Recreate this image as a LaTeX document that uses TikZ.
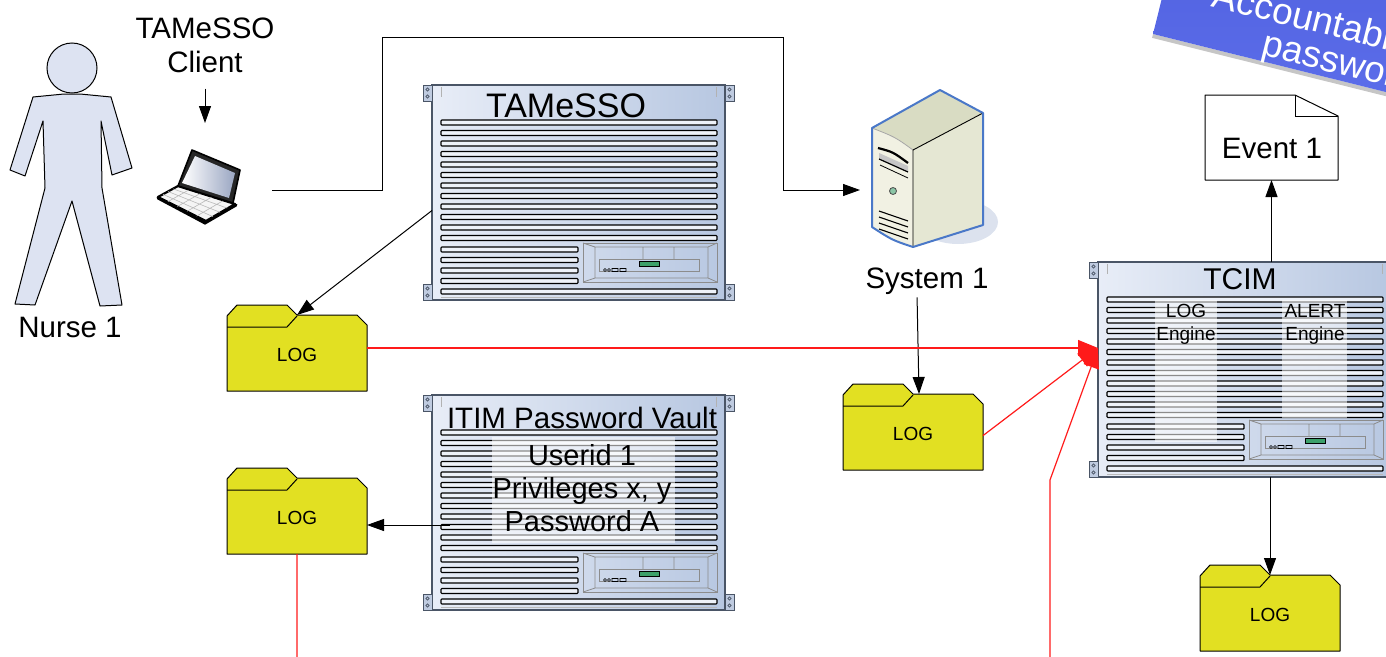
\documentclass[tikz,border=0pt]{standalone}
\usepackage{fontspec}
\setmainfont{Liberation Sans}
\usetikzlibrary{arrows.meta}

\definecolor{rackL}{HTML}{E8EDF7}
\definecolor{rackR}{HTML}{B7C7E1}
\definecolor{rackEdge}{HTML}{4A5566}
\definecolor{earFill}{HTML}{BFCBE0}
\definecolor{slatFill}{HTML}{EEF2F9}
\definecolor{panelGray}{HTML}{8C8C8C}
\definecolor{ledGreen}{HTML}{3DA06A}
\definecolor{logYellow}{HTML}{E2E022}
\definecolor{personFill}{HTML}{DDE3F2}
\definecolor{linkRed}{HTML}{FF1A1A}
\definecolor{bannerTop}{HTML}{4E5EDD}
\definecolor{bannerBot}{HTML}{5E70EC}
\definecolor{towerTop}{HTML}{D9DCC3}
\definecolor{towerFront}{HTML}{F1F1E3}
\definecolor{towerSide}{HTML}{E5E7D3}
\definecolor{towerEdge}{HTML}{4A78C8}
\definecolor{towerShadow}{HTML}{DCE2EE}
\definecolor{screenBlue}{HTML}{9AA6C2}

\begin{document}
\begin{tikzpicture}[x=1pt, y=-1pt,
  inv/.style={draw=none, inner sep=0pt, outer sep=0pt},
  lbl/.style={inner sep=0pt, font=\fontsize{29.5}{34}\selectfont},
  title/.style={inner sep=0pt, font=\fontsize{#1}{#1}\selectfont},
  small/.style={inner sep=0pt, font=\fontsize{19}{22}\selectfont},
  slat/.style={draw=black, line width=1.1pt, fill=slatFill, rounded corners=0.8pt},
  panelline/.style={draw=panelGray, line width=0.8pt},
  veil/.style={fill=white, fill opacity=0.55, draw=none},
  arr/.style={draw=black, line width=1pt, -{Triangle[length=17pt,width=12pt]}},
  redarr/.style={draw=linkRed, line width=1.2pt, -{Triangle[length=20pt,width=16pt]}},
  bannertext/.style={inner sep=0pt, text=white, transform shape, font=\fontsize{37}{40}\selectfont},
  % rack-mounted server, local origin at the top-left corner of the chassis
  rack/.pic={
    \node[inv, anchor=north west, minimum width=293pt, minimum height=215pt] (-box) at (0,0) {};
    \shade[left color=rackL, right color=rackR] (0,0) rectangle (293,215);
    \draw[rackEdge, line width=1.2pt] (0,0) rectangle (293,215);
    \foreach \ex in {-9,293}{
      \foreach \ey in {0,199}{
        \filldraw[fill=earFill, draw=rackEdge, line width=0.8pt] (\ex,\ey) rectangle ++(9,16);
        \draw[rackEdge, line width=0.6pt] (\ex+4.5,\ey+4.5) circle (1.6pt) (\ex+4.5,\ey+11.5) circle (1.6pt);
      }
    }
    \draw[gray!60, line width=0.8pt] (9,2) -- (9,12) (284,2) -- (284,12);
    \foreach \i in {0,...,11}{ \draw[slat] (9,35+10.5*\i) rectangle ++(276,5); }
    \foreach \i in {0,...,3}{ \draw[slat] (9,162+10.5*\i) rectangle ++(137,5); }
    \draw[slat] (9,204) rectangle ++(276,5);
    \draw[gray!55, line width=0.8pt] (9,212) -- (285,212);
    \begin{scope}[shift={(151,158)}]
      \draw[panelline] (0,0) rectangle (134,39);
      \draw[panelline] (0,0) -- (12,4) -- (125,4) -- (134,0)
                       (0,39) -- (12,35) -- (125,35) -- (134,39)
                       (12,4) -- (12,35) (125,4) -- (125,35)
                       (60,4) -- (60,16) (91,4) -- (91,16);
      \draw[panelline] (16,16) rectangle (116,28);
      \filldraw[fill=ledGreen, draw=black, line width=0.8pt] (56,18) rectangle (76,23.5);
      \draw[black, line width=0.6pt] (22,27) circle (1.5pt) (26,27) circle (1.5pt)
         (29,25.5) rectangle (35,28.5) (37,25.5) rectangle (43,28.5);
    \end{scope}
  },
  % log folder, local origin at the top-left of its bounding box
  folder/.pic={
    \node[inv, anchor=north west, minimum width=140pt, minimum height=86pt] (-box) at (0,0) {};
    \coordinate (-notch) at (70,10);
    \coordinate (-top) at (76,10);
    \filldraw[fill=logYellow, draw=black, line width=1pt, line join=round]
      (0,11) -- (10,0) -- (60,0) -- (70,10) -- (130,10) -- (140,20) -- (140,86) -- (0,86) -- cycle;
    \draw[line width=1pt] (0,22) -- (60,22) -- (70,11);
    \node[small] (-lbl) at (70,50) {LOG};
  }
]
\useasboundingbox (0,0) rectangle (1386,656);
\clip (0,0) rectangle (1386,656);

% ---------- banner in the top-right corner ----------
\begin{scope}[shift={(1153,34)}, rotate=-14]
  \fill[gray!45] (0,0) rectangle (440,4);
  \shade[top color=bannerTop, bottom color=bannerBot] (0,0) rectangle (440,-140);
  \node[bannertext, anchor=base west] (ban1) at (49,-41) {Accountability};
  \node[bannertext, anchor=base west] (ban2) at (109,-6) {passwords};
\end{scope}

% ---------- nurse ----------
\filldraw[fill=personFill, draw=black, line width=1pt, line join=round]
  (33,97) -- (10,170) -- (25,176) -- (43,121) -- (45,188) -- (15,304) -- (35,305)
  -- (72,201) -- (100,306) -- (122,305) -- (102,188) -- (101,121) -- (112,175)
  -- (132,168) -- (111,97) -- (80,94) -- (64,94) -- cycle;
\filldraw[fill=personFill, draw=black, line width=1pt] (72,68) circle (25pt);
\node[lbl] (nurse) at (70,327) {Nurse 1};

% ---------- client label and laptop ----------
\node[lbl, align=center] (client) at (205,45) {TAMeSSO\\Client};
\node[inv, minimum width=86pt, minimum height=80pt] (laptop) at (199,190) {};
% base with keyboard
\filldraw[fill=gray!8, draw=black, line width=2.2pt, line join=round]
  (178,186) -- (235,204) -- (206,221) -- (158,197) -- cycle;
\draw[gray!55, line width=0.6pt]
  (173,188.8) -- (227.8,208.3) (168,191.5) -- (220.5,212.5) (163,194.3) -- (213.3,216.8)
  (189.4,189.6) -- (167.6,201.8) (200.8,193.2) -- (177.2,206.6)
  (212.2,196.8) -- (186.8,211.4) (223.6,200.4) -- (196.4,216.2);
\draw[black, line width=3pt, line cap=round] (158,198) -- (205,223) -- (236,205);
% lid and screen
\filldraw[fill=black!85, draw=black, line width=1.6pt, line join=round]
  (192,150) -- (240,170) -- (233,203) -- (178,186) -- cycle;
\shade[left color=white, right color=screenBlue] (195,156) -- (235,173) -- (229,198) -- (182,183) -- cycle;

% ---------- TAMeSSO server ----------
\pic (tam) at (432,85) {rack};
\node[title=34, anchor=base] (tamt) at (566,117) {TAMeSSO};

% ---------- System 1 tower ----------
\node[inv, minimum width=140pt, minimum height=165pt, anchor=north west] (sys1) at (860,88) {};
\fill[towerShadow] (958,222) ellipse (40pt and 22pt);
\fill[towerTop] (872,128) -- (940,90) -- (983,113) -- (913,150) .. controls (895,137) .. cycle;
\fill[towerSide] (913,150) -- (983,113) -- (983,225) -- (913,247) -- cycle;
\fill[towerFront] (872,128) .. controls (895,137) .. (913,150) -- (913,247) .. controls (892,240) .. (872,227) -- cycle;
\draw[gray!70, line width=0.8pt] (872,128) .. controls (895,137) .. (913,150);
\draw[black, line width=0.9pt] (983,113) -- (913,150) -- (913,247);
\draw[towerEdge, line width=2pt, line join=round]
  (872,128) -- (940,90) -- (983,113) -- (983,225) -- (913,247) .. controls (892,240) .. (872,227) -- cycle;
\draw[black, line width=2.2pt] (878,148) .. controls (893,152) .. (908,163);
\fill[gray!45] (879,153) -- (908,166) -- (908,172) -- (879,159) -- cycle;
\draw[black, line width=1.2pt] (879,159) -- (908,172);
\draw[black, line width=0.8pt] (880,165) -- (908,178);
\filldraw[fill=ledGreen!60!white, draw=black!70, line width=0.8pt] (893,191) circle (3.5pt);
\foreach \k in {0,1,2,3}{ \draw[black, line width=1.1pt] (879,211+6*\k) -- (908,221+6*\k); }
\node[lbl, anchor=base] (sys1lbl) at (927,288) {System 1};

% ---------- ITIM password vault ----------
\pic (itim) at (432,395) {rack};
\fill[veil] (492,437) rectangle (675,543);
\node[title=29.5, anchor=base] (itimt) at (582,428) {ITIM Password Vault};
\node[title=29, anchor=base] (uid) at (582,465) {Userid 1};
\node[title=29, anchor=base] (priv) at (582,498) {Privileges x, y};
\node[title=29, anchor=base] (pwd) at (582,531) {Password A};

% ---------- TCIM ----------
\pic (tcim) at (1098,262) {rack};
\fill[veil] (1155,300) rectangle (1217,442);
\fill[veil] (1282,300) rectangle (1347,418);
\node[title=30, anchor=base] (tcimt) at (1240,289) {TCIM};
\node[small, anchor=base] (loge1) at (1186,317) {LOG};
\node[small, anchor=base] (loge2) at (1186,340) {Engine};
\node[small, anchor=base] (ale1) at (1315,317) {ALERT};
\node[small, anchor=base] (ale2) at (1315,340) {Engine};

% ---------- event document ----------
\node[inv, minimum width=133pt, minimum height=85pt, anchor=north west] (ev) at (1205,95) {};
\filldraw[fill=white, draw=black, line width=1pt, line join=round]
  (ev.south west) -- (ev.north west) -- ([xshift=-43pt]ev.north east)
  -- ([yshift=-21pt]ev.north east) -- (ev.south east) -- cycle;
\draw[black, line width=1pt] ([xshift=-43pt]ev.north east) -- ([xshift=-43pt,yshift=-21pt]ev.north east)
  -- ([yshift=-21pt]ev.north east);
\node[lbl, anchor=base] (evt) at (1272,158) {Event 1};

% ---------- log folders ----------
\pic (f1) at (227,305) {folder};
\pic (f2) at (227,468) {folder};
\pic (f3) at (843,384) {folder};
\pic (f4) at (1200,565) {folder};

% ---------- connectors ----------
\coordinate (itim-port) at (450,525);
\coordinate (tcim-in) at (f1-box.east -| tcim-box.west);

\draw[arr, shorten <=16pt, shorten >=27pt] (client.south) -- (client.south |- laptop.north);
\draw[arr, shorten <=30pt] (laptop.east) -- (382,190) -- (382,37) -- (783,37) -- (783,190)
  -- (sys1.west |- laptop.east);
\draw[arr] (tam-box.187) -- (f1-notch);
\draw[arr, shorten <=3pt] ([xshift=-10pt]sys1lbl.south) -- (f3-top);
\draw[arr] (itim-port) -- (itim-port -| f2-box.east);
\draw[arr] (ev.south |- tcim-box.north) -- (ev.south);
\draw[arr] (f4-notch |- tcim-box.south) -- (f4-notch);

\draw[redarr] (f1-box.east) -- (tcim-in);
\draw[redarr] (f3-box.-7) -- (tcim-in);
\draw[redarr] (f2-box.south) -- (f2-box.south |- 0,700) -- (1050,700) -- (1050,480) -- (tcim-in);
\end{tikzpicture}
\end{document}
